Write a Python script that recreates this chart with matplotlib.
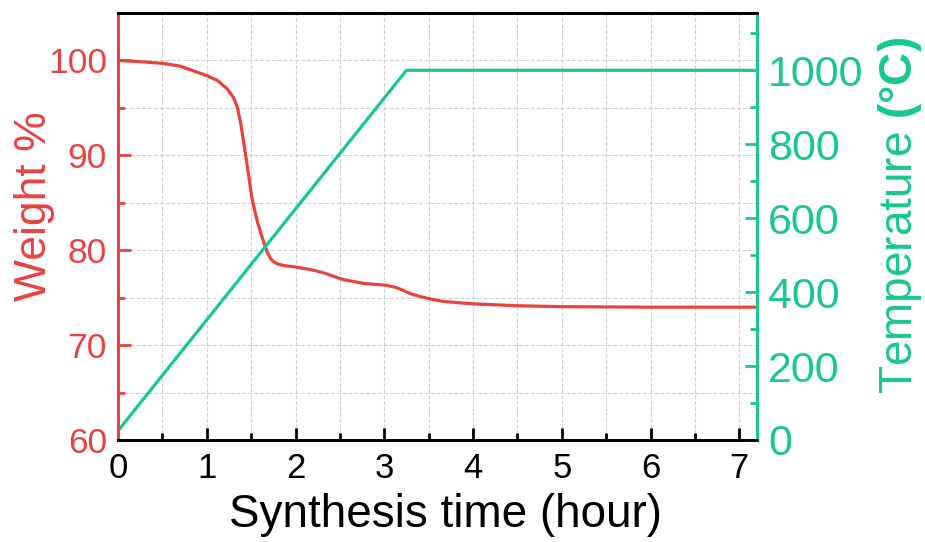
import matplotlib
matplotlib.use('Agg')
import matplotlib.pyplot as plt
import matplotlib.ticker as ticker

plt.rcParams['font.family'] = ['Liberation Sans', 'DejaVu Sans']
plt.rcParams['mathtext.fontset'] = 'custom'
plt.rcParams['mathtext.rm'] = 'Liberation Sans'
plt.rcParams['mathtext.bf'] = 'Liberation Sans:bold'

red = '#e8423f'
green = '#17c98b'

# weight loss curve
time_w = [0, 0.2, 0.5, 0.7, 0.85, 1.0, 1.12, 1.23, 1.30, 1.34, 1.38, 1.41, 1.44, 1.47,
          1.51, 1.57, 1.64, 1.68, 1.72, 1.75, 1.8, 1.86, 2.02, 2.2, 2.32, 2.54, 2.77,
          3.03, 3.12, 3.18, 3.3, 3.41, 3.55, 3.67, 3.86, 4.0, 4.5, 5.0, 6.0, 7.2]
weight = [100, 99.9, 99.7, 99.4, 98.9, 98.4, 97.9, 97.0, 96.1, 95.2, 93.5, 91.7, 89.9, 88.0,
          85.4, 83.0, 80.9, 79.8, 79.1, 78.8, 78.55, 78.4, 78.2, 77.9, 77.6, 76.9, 76.5,
          76.3, 76.1, 75.9, 75.4, 75.1, 74.8, 74.6, 74.45, 74.35, 74.15, 74.05, 74.0, 74.0]

# furnace program
time_t = [0, 3.25, 7.2]
temp = [25, 1000, 1000]

fig, ax1 = plt.subplots(figsize=(9.25, 5.42), dpi=100)
fig.subplots_adjust(left=0.1276, right=0.8184, bottom=0.1882, top=0.976)

ax1.plot(time_w, weight, color=red, lw=2.3)
ax1.set_xlim(0, 7.2)
ax1.set_ylim(60, 105)
ax1.xaxis.set_major_locator(ticker.MultipleLocator(1))
ax1.xaxis.set_minor_locator(ticker.MultipleLocator(0.5))
ax1.yaxis.set_major_locator(ticker.MultipleLocator(10))
ax1.yaxis.set_minor_locator(ticker.MultipleLocator(5))
ax1.grid(True, which='both', ls='--', color='#d0d0d0', lw=0.8)
ax1.set_axisbelow(True)

ax1.tick_params(axis='x', which='major', direction='in', length=9, width=2, labelsize=25, pad=9, colors='black')
ax1.tick_params(axis='x', which='minor', direction='in', length=5, width=2)
ax1.tick_params(axis='y', which='major', direction='in', length=9, width=2, labelsize=25.5, pad=8, colors=red)
ax1.tick_params(axis='y', which='minor', direction='in', length=5, width=2, colors=red)
ax1.set_xlabel('Synthesis time (hour)', fontsize=33, labelpad=8)
ax1.xaxis.set_label_coords(0.513, -0.125)
ax1.set_ylabel('Weight %', fontsize=32, color=red)
ax1.yaxis.set_label_coords(-0.099, 0.548)

ax2 = ax1.twinx()
ax2.plot(time_t, temp, color=green, lw=2.3)
ax2.set_ylim(0, 1155)
ax2.yaxis.set_major_locator(ticker.MultipleLocator(200))
ax2.yaxis.set_minor_locator(ticker.MultipleLocator(100))
ax2.tick_params(axis='y', which='major', direction='in', length=9, width=2, labelsize=31, pad=8, colors=green)
ax2.tick_params(axis='y', which='minor', direction='in', length=5, width=2, colors=green)
ax2.set_ylabel('Temperature $\\mathbf{(°C)}$', fontsize=33, color=green)
ax2.yaxis.set_label_coords(1.186, 0.527)

for ax in (ax1, ax2):
    for s in ax.spines.values():
        s.set_linewidth(2)
    ax.spines['top'].set_color('black')
    ax.spines['bottom'].set_color('black')
    ax.spines['left'].set_color(red)
    ax.spines['right'].set_color(green)

fig.savefig('out.png', dpi=100)
